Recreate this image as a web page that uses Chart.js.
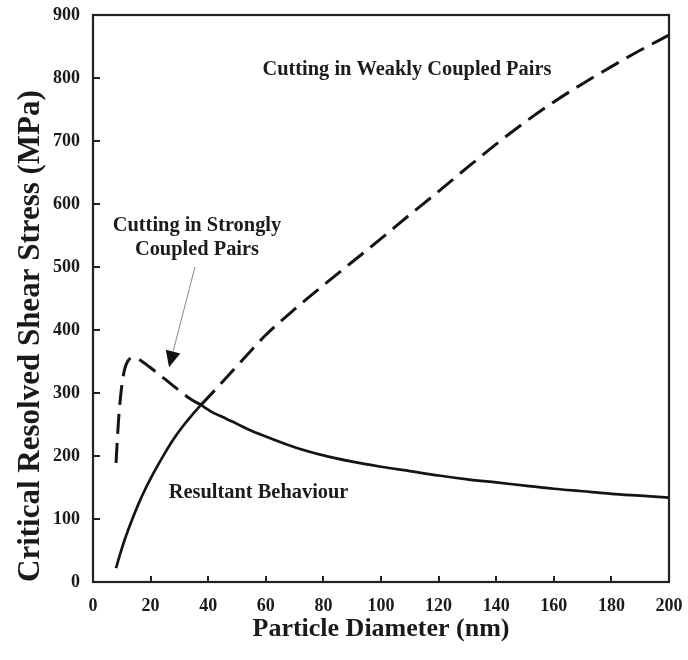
<!DOCTYPE html>
<html>
<head>
<meta charset="utf-8">
<script src="https://cdn.jsdelivr.net/npm/chart.js@4.4.1/dist/chart.umd.min.js"></script>
<style>
  html, body { margin: 0; padding: 0; background: #ffffff; }
  #wrap { width: 688px; height: 660px; }
</style>
</head>
<body>
<div id="wrap"><canvas id="c" width="688" height="660"></canvas></div>
<script>
// Particle diameter (nm)
const diameters = [8, 8.5, 9, 10, 11, 12, 13, 14, 16, 18, 20, 22, 25, 28, 31, 34, 37.5, 42, 45, 50, 55, 60, 70, 80, 90, 100, 110, 120, 130, 140, 150, 160, 170, 180, 190, 200];
// Cutting in strongly coupled pairs (MPa)
const strongCRSS = [189, 230, 265, 312, 338, 350, 355, 356, 353, 347, 340, 333, 322, 311, 300, 290, 281, 268, 262, 251, 240, 231, 214, 201, 191, 183, 176, 169, 163, 158, 153, 148, 144, 140, 137, 134];
// Cutting in weakly coupled pairs (MPa)
const weakCRSS = [22, 30, 38, 53, 67, 80, 92, 104, 126, 146, 164, 181, 205, 227, 246, 263, 281, 303, 318, 343, 368, 392, 433, 471, 508, 545, 583, 620, 658, 695, 730, 762, 791, 818, 844, 868];
const xTicks = [0, 20, 40, 60, 80, 100, 120, 140, 160, 180, 200];
const yTicks = [0, 100, 200, 300, 400, 500, 600, 700, 800, 900];

const labelWeak = 'Cutting in Weakly Coupled Pairs';
const labelStrong = ['Cutting in Strongly', 'Coupled Pairs'];
const labelResult = 'Resultant Behaviour';

// crossing index: where the two curves meet
let cross = 0;
for (let i = 0; i < diameters.length; i++) { if (strongCRSS[i] <= weakCRSS[i]) { cross = i; break; } }
const pts = (arr, a, b) => diameters.slice(a, b).map((d, i) => ({ x: d, y: arr[a + i] }));

const INK = '#141414';
const DASH = [20, 9];
const SERIF = '"Liberation Serif", "Times New Roman", serif';

const base = { borderColor: INK, pointRadius: 0, fill: false, cubicInterpolationMode: 'monotone', showLine: true, borderCapStyle: 'butt' };
const datasets = [
  Object.assign({}, base, { label: 'strong-dashed', data: pts(strongCRSS, 0, cross + 1), borderDash: DASH, borderWidth: 3 }),
  Object.assign({}, base, { label: 'weak-solid', data: pts(weakCRSS, 0, cross + 1), borderWidth: 2.7 }),
  Object.assign({}, base, { label: 'strong-solid', data: pts(strongCRSS, cross, diameters.length), borderWidth: 2.7 }),
  Object.assign({}, base, { label: 'weak-dashed', data: pts(weakCRSS, cross, diameters.length), borderDash: DASH, borderWidth: 3 })
];

const decor = {
  id: 'decor',
  afterDraw(chart) {
    const { ctx, chartArea: a, scales: { x, y } } = chart;
    ctx.save();
    // frame
    ctx.strokeStyle = '#222';
    ctx.lineWidth = 2.2;
    ctx.strokeRect(a.left, a.top, a.right - a.left, a.bottom - a.top);
    // inward ticks
    ctx.lineWidth = 2;
    ctx.beginPath();
    xTicks.forEach(v => { const px = Math.round(x.getPixelForValue(v)); ctx.moveTo(px, a.bottom); ctx.lineTo(px, a.bottom - 6); });
    yTicks.forEach(v => { const py = Math.round(y.getPixelForValue(v)); ctx.moveTo(a.left, py); ctx.lineTo(a.left + 7, py); });
    ctx.stroke();
    // annotations
    ctx.fillStyle = '#1c1c1c';
    ctx.font = 'bold 20.4px ' + SERIF;
    ctx.textAlign = 'center';
    ctx.textBaseline = 'middle';
    ctx.fillText(labelWeak, x.getPixelForValue(109), y.getPixelForValue(813));
    ctx.fillText(labelStrong[0], x.getPixelForValue(36.1), y.getPixelForValue(565));
    ctx.fillText(labelStrong[1], x.getPixelForValue(36.1), y.getPixelForValue(527));
    ctx.fillText(labelResult, x.getPixelForValue(57.5), y.getPixelForValue(141));
    // arrow
    const x0 = x.getPixelForValue(35.4), y0 = y.getPixelForValue(500);
    const x1 = x.getPixelForValue(26.4), y1 = y.getPixelForValue(341);
    const ang = Math.atan2(y1 - y0, x1 - x0);
    const L = 16, W = 7.5;
    const bx = x1 - L * Math.cos(ang), by = y1 - L * Math.sin(ang);
    ctx.strokeStyle = '#888';
    ctx.lineWidth = 1;
    ctx.beginPath(); ctx.moveTo(x0, y0); ctx.lineTo(bx, by); ctx.stroke();
    ctx.fillStyle = '#111';
    ctx.beginPath();
    ctx.moveTo(x1, y1);
    ctx.lineTo(bx + W * Math.sin(ang), by - W * Math.cos(ang));
    ctx.lineTo(bx - W * Math.sin(ang), by + W * Math.cos(ang));
    ctx.closePath(); ctx.fill();
    ctx.restore();
  }
};

new Chart(document.getElementById('c'), {
  type: 'scatter',
  data: { datasets },
  options: {
    responsive: false,
    devicePixelRatio: 1,
    animation: false,
    layout: { padding: { top: 15, right: 19, bottom: 0, left: 0 } },
    plugins: { legend: { display: false }, tooltip: { enabled: false } },
    elements: { line: { tension: 0 } },
    scales: {
      x: {
        type: 'linear', min: 0, max: 200,
        afterBuildTicks: s => { s.ticks = xTicks.map(v => ({ value: v })); },
        afterFit: s => { s.height = 78; s.paddingRight = 0; s.paddingLeft = 0; },
        grid: { display: false, drawTicks: false },
        border: { display: false },
        ticks: { color: '#1a1a1a', padding: 14, maxRotation: 0, autoSkip: false, font: { family: SERIF, size: 18, weight: 'bold' } },
        title: { display: true, text: 'Particle Diameter (nm)', color: '#1a1a1a', padding: { top: 0, bottom: 15 }, font: { family: SERIF, size: 26, weight: 'bold' } }
      },
      y: {
        type: 'linear', min: 0, max: 900,
        afterBuildTicks: s => { s.ticks = yTicks.map(v => ({ value: v })); },
        afterFit: s => { s.width = 93; s.paddingTop = 0; s.paddingBottom = 0; },
        grid: { display: false, drawTicks: false },
        border: { display: false },
        ticks: { color: '#1a1a1a', padding: 13, autoSkip: false, font: { family: SERIF, size: 18, weight: 'bold' } },
        title: { display: true, align: 'start', text: 'Critical Resolved Shear Stress (MPa)', color: '#1a1a1a', padding: { top: 12, bottom: 0 }, font: { family: SERIF, size: 31, weight: 'bold' } }
      }
    }
  },
  plugins: [decor]
});
</script>
</body>
</html>
